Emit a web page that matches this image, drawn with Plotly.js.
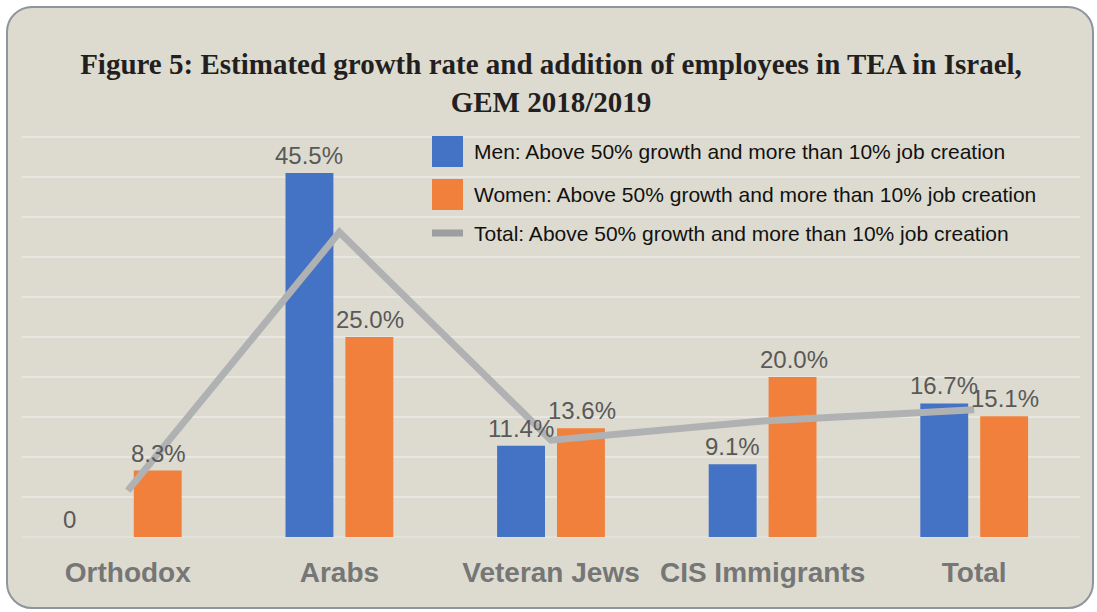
<!DOCTYPE html>
<html>
<head>
<meta charset="utf-8">
<script src="https://cdn.plot.ly/plotly-3.0.1.min.js"></script>
<style>
  html, body { margin: 0; padding: 0; background: #ffffff; }
  #frame {
    position: absolute; left: 6px; top: 6px; width: 1088px; height: 603px;
    box-sizing: border-box; border: 2px solid #8e959c; border-radius: 26px;
    background: #dddbcf;
  }
  #chart { position: absolute; left: 0; top: 0; width: 1097px; height: 612px; }
</style>
</head>
<body>
<div id="frame"></div>
<div id="chart"></div>
<script>
const categories = ['Orthodox', 'Arabs', 'Veteran Jews', 'CIS Immigrants', 'Total'];
const menValues = [0, 45.5, 11.4, 9.1, 16.7];
const womenValues = [8.3, 25.0, 13.6, 20.0, 15.1];
const totalValues = [5.8, 38.1, 12.1, 14.5, 15.9];
const seriesNames = [
  'Men: Above 50% growth and more than 10% job creation',
  'Women: Above 50% growth and more than 10% job creation',
  'Total: Above 50% growth and more than 10% job creation'
];
const titleText = '<b>Figure 5: Estimated growth rate and addition of employees in TEA in Israel,<br>GEM 2018/2019</b>';

const W = 1097, H = 612;
const YMAX = 50.25;
const M = { l: 22, r: 17, t: 135, b: 75 };
const pw = W - M.l - M.r, ph = H - M.t - M.b;
const px = x => (x - M.l) / pw;
const py = y => (H - M.b - y) / ph;

const BLUE = '#4472c4', ORANGE = '#f0803c', GREY = '#b0b1b3';
const fmt = v => v === 0 ? '0' : v.toFixed(1) + '%';

const traces = [
  { type: 'bar', name: seriesNames[0], x: categories, y: menValues,
    marker: { color: BLUE }, hoverinfo: 'skip' },
  { type: 'bar', name: seriesNames[1], x: categories, y: womenValues,
    marker: { color: ORANGE }, hoverinfo: 'skip' },
  { type: 'scatter', mode: 'lines', name: seriesNames[2], x: categories, y: totalValues,
    line: { color: GREY, width: 7 }, hoverinfo: 'skip' }
];

const annotations = [];
const labelFont = { family: 'Liberation Sans, Arial, sans-serif', size: 24, color: '#595959' };
menValues.forEach((v, i) => annotations.push({
  x: categories[i], y: v, xref: 'x', yref: 'y', text: fmt(v), showarrow: false,
  yanchor: 'bottom', xshift: v === 0 ? -58 : -30, yshift: 2, font: labelFont
}));
womenValues.forEach((v, i) => annotations.push({
  x: categories[i], y: v, xref: 'x', yref: 'y', text: fmt(v), showarrow: false,
  yanchor: 'bottom', xshift: 31, yshift: 2, font: labelFont
}));

// custom legend
const legendFont = { family: 'Liberation Sans, Arial, sans-serif', size: 21, color: '#111111' };
const legendRows = [151.5, 194.5, 233];
seriesNames.forEach((n, i) => annotations.push({
  x: px(472), y: py(legendRows[i]), xref: 'paper', yref: 'paper', text: n,
  showarrow: false, xanchor: 'left', yanchor: 'middle', font: legendFont
}));
const shapes = [
  { type: 'rect', xref: 'paper', yref: 'paper', x0: px(432), x1: px(463), y0: py(167), y1: py(136),
    fillcolor: BLUE, line: { width: 0 } },
  { type: 'rect', xref: 'paper', yref: 'paper', x0: px(432), x1: px(463), y0: py(210), y1: py(179),
    fillcolor: ORANGE, line: { width: 0 } },
  { type: 'line', xref: 'paper', yref: 'paper', x0: px(432), x1: px(463), y0: py(233), y1: py(233),
    line: { color: '#9d9ea0', width: 7 } }
];

const layout = {
  width: W, height: H,
  margin: M,
  paper_bgcolor: 'rgba(0,0,0,0)',
  plot_bgcolor: 'rgba(0,0,0,0)',
  showlegend: false,
  barmode: 'group',
  bargap: 0.434,
  bargroupgap: 0.2,
  title: {
    text: titleText,
    x: 0.5, xanchor: 'center', xref: 'paper',
    y: 1 - 74 / H, yanchor: 'top', yref: 'container',
    font: { family: 'Liberation Serif, Times New Roman, serif', size: 29, color: '#231f20' }
  },
  xaxis: {
    type: 'category',
    showgrid: false, zeroline: false, showline: false, ticks: '',
    tickfont: { family: 'Liberation Sans, Arial, sans-serif', size: 28, color: '#767676', weight: 'bold' },
    ticklabelstandoff: 16
  },
  yaxis: {
    range: [0, YMAX], dtick: 5, showticklabels: false,
    showgrid: true, gridcolor: '#e7e6e1', gridwidth: 2,
    zeroline: true, zerolinecolor: '#e2e1dc', zerolinewidth: 2, showline: false, ticks: ''
  },
  annotations: annotations,
  shapes: shapes,
  font: { family: 'Liberation Sans, Arial, sans-serif' }
};

Plotly.newPlot('chart', traces, layout, { displayModeBar: false, staticPlot: true });
</script>
</body>
</html>
